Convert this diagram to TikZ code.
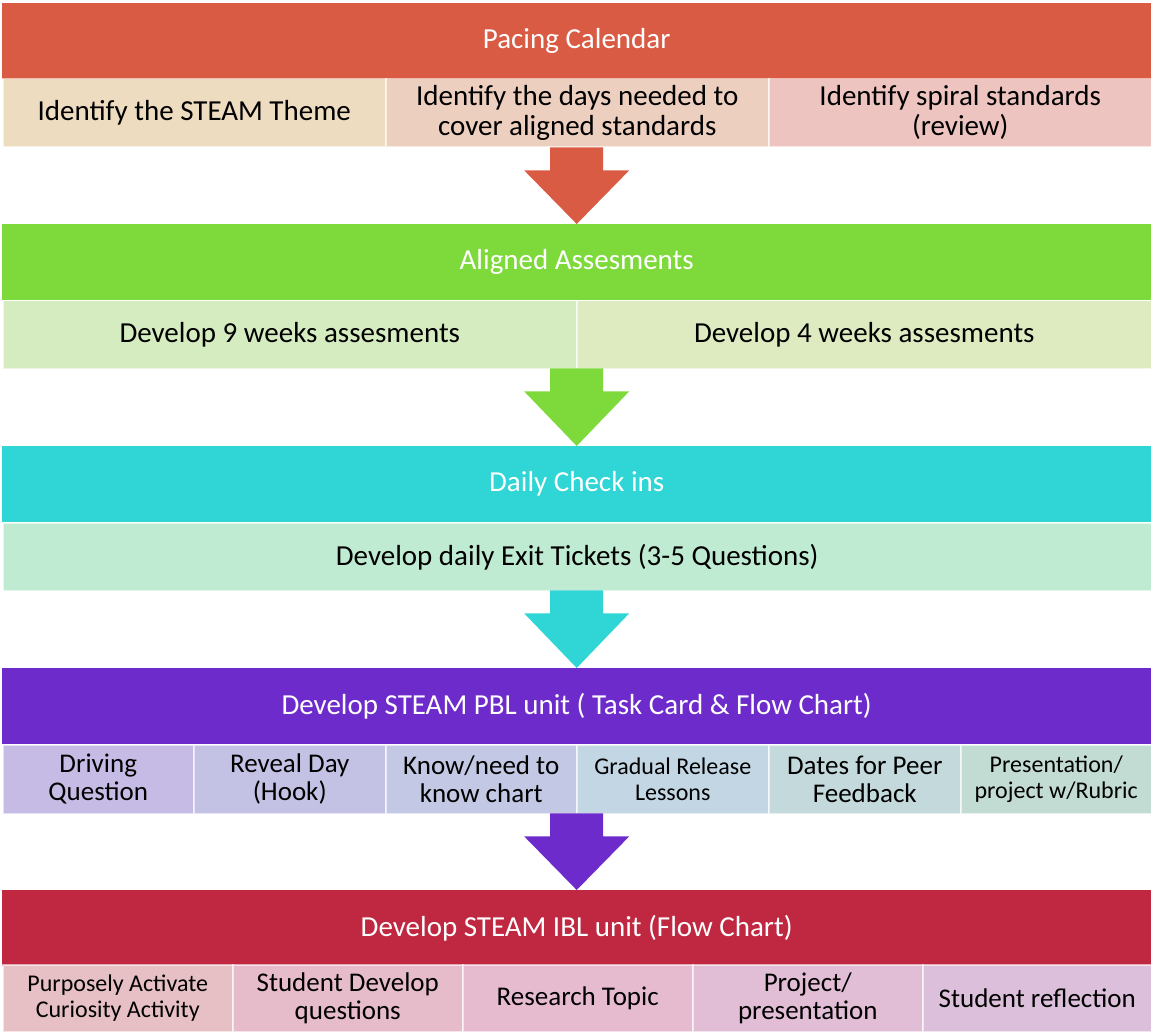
\documentclass[tikz,border=0pt]{standalone}
\usepackage{fontspec}
\setmainfont{Carlito}
\usetikzlibrary{calc}
\definecolor{hA}{HTML}{DA5B44}
\definecolor{hB}{HTML}{7ED93B}
\definecolor{hC}{HTML}{30D5D5}
\definecolor{hD}{HTML}{6E2BCB}
\definecolor{hE}{HTML}{C02842}
\definecolor{a1}{HTML}{EDDCC0}
\definecolor{a2}{HTML}{EDCFC0}
\definecolor{a3}{HTML}{EDC4C0}
\definecolor{b1}{HTML}{D5EBC0}
\definecolor{b2}{HTML}{DEEBC0}
\definecolor{c1}{HTML}{C0EBD3}
\definecolor{d1}{HTML}{C6BBE4}
\definecolor{d2}{HTML}{C4C2E4}
\definecolor{d3}{HTML}{C3C9E4}
\definecolor{d4}{HTML}{C3D6E4}
\definecolor{d5}{HTML}{C3D9DC}
\definecolor{d6}{HTML}{C3DCD3}
\definecolor{e1}{HTML}{E6C0C4}
\definecolor{e2}{HTML}{E6BCCB}
\definecolor{e3}{HTML}{E6BBD0}
\definecolor{e4}{HTML}{E2BED6}
\definecolor{e5}{HTML}{DCBFDA}
\tikzset{
  hdr/.style={fill=#1, draw=none, anchor=north west, minimum width=1149pt, minimum height=76pt,
     inner sep=0pt, text=white, font=\fontsize{29}{30}\selectfont},
  sub/.style={draw=white, draw opacity=0.6, line width=1.5pt, anchor=north west, inner sep=0pt,
     align=center, text=black},
  big/.style={font=\fontsize{29}{30}\selectfont},
  mid/.style={font=\fontsize{27}{28}\selectfont},
  small/.style={font=\fontsize{24}{26}\selectfont}
}
\newcommand\mybox[8]{\node[sub, fill=#6, minimum width=#3pt, minimum height=#5pt, #7] (#1) at (#2,#4) {#8};}
\newcommand\blockarrow[3]{%
  \fill[#3] ($(#1.south)+(-26.5,0)$) -- ($(#1.south)+(26.5,0)$) -- ($(#1.south)+(26.5,23)$)
   -- ($(#1.south)+(52.5,23)$) -- (#2.north) -- ($(#1.south)+(-52.5,23)$) -- ($(#1.south)+(-26.5,23)$) -- cycle;}
\begin{document}
\begin{tikzpicture}[x=1pt,y=-1pt]
\useasboundingbox (0,0) rectangle (1151,1032);
% Section 1
\node[hdr=hA] (h1) at (2,3) {Pacing Calendar};
\mybox{s11}{2}{383}{78}{68}{a1}{big}{Identify the STEAM Theme}
\mybox{s12}{385}{383}{78}{68}{a2}{big}{Identify the days needed to\\cover aligned standards}
\mybox{s13}{768}{383}{78}{68}{a3}{big}{Identify spiral standards\\(review)}
% Section 2
\node[hdr=hB] (h2) at (2,224) {Aligned Assesments};
\mybox{s21}{2}{574}{300}{68}{b1}{big}{Develop 9 weeks assesments}
\mybox{s22}{576}{575}{300}{68}{b2}{big}{Develop 4 weeks assesments}
% Section 3
\node[hdr=hC] (h3) at (2,446) {Daily Check ins};
\mybox{s31}{2}{1149}{522}{68}{c1}{big}{Develop daily Exit Tickets (3-5 Questions)}
% Section 4
\node[hdr=hD] (h4) at (2,668) {Develop STEAM PBL unit ( Task Card \& Flow Chart)};
\mybox{s41}{2}{191}{744}{69}{d1}{mid}{Driving\\Question}
\mybox{s42}{193}{192}{744}{69}{d2}{mid}{Reveal Day\\(Hook)}
\mybox{s43}{385}{191}{744}{69}{d3}{mid}{Know/need to\\know chart}
\mybox{s44}{576}{192}{744}{69}{d4}{small}{Gradual Release\\Lessons}
\mybox{s45}{768}{192}{744}{69}{d5}{mid}{Dates for Peer\\Feedback}
\mybox{s46}{960}{191}{744}{69}{d6}{small}{Presentation/\\project w/Rubric}
% Section 5
\node[hdr=hE] (h5) at (2,890) {Develop STEAM IBL unit (Flow Chart)};
\mybox{s51}{2}{230}{964}{67}{e1}{small}{Purposely Activate\\Curiosity Activity}
\mybox{s52}{232}{230}{964}{67}{e2}{mid}{Student Develop\\questions}
\mybox{s53}{462}{230}{964}{67}{e3}{mid}{Research Topic}
\mybox{s54}{692}{230}{964}{67}{e4}{mid}{Project/\\presentation}
\mybox{s55}{922}{229}{964}{67}{e5}{mid}{Student reflection}
% arrows
\coordinate (t1) at ($(h1.south)+(0,68)$);
\coordinate (t2) at ($(h2.south)+(0,68)$);
\coordinate (t3) at ($(h3.south)+(0,68)$);
\coordinate (t4) at ($(h4.south)+(0,69)$);
\blockarrow{t1}{h2}{hA}
\blockarrow{t2}{h3}{hB}
\blockarrow{t3}{h4}{hC}
\blockarrow{t4}{h5}{hD}
\end{tikzpicture}
\end{document}
